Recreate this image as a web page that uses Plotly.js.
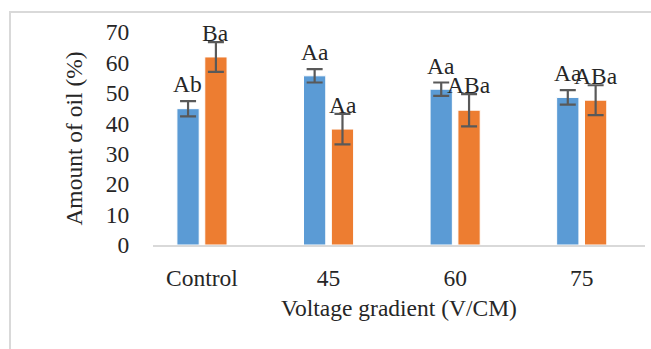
<!DOCTYPE html>
<html>
<head>
<meta charset="utf-8">
<script src="https://cdn.plot.ly/plotly-3.0.1.min.js"></script>
<style>
  html, body { margin: 0; padding: 0; background: #fff; overflow: hidden; }
  #frame { position: absolute; left: 9px; top: 11px; width: 700px; height: 400px; border: 2px solid #d9d9d9; box-sizing: border-box; }
  #chart { position: absolute; left: 0; top: 0; width: 651px; height: 349px; }
</style>
</head>
<body>
<div id="frame"></div>
<div id="chart"></div>
<script>
const categories = ["Control", "45", "60", "75"];
const series1Values = [44.8, 55.6, 51.2, 48.5];
const series1Errors = [2.5, 2.2, 2.2, 2.4];
const series1Labels = ["Ab", "Aa", "Aa", "Aa"];
const series2Values = [61.8, 38.1, 44.3, 47.6];
const series2Errors = [4.9, 5.0, 5.3, 4.9];
const series2Labels = ["Ba", "Aa", "ABa", "ABa"];
const yTicks = [0, 10, 20, 30, 40, 50, 60, 70];

const FONT = "Liberation Serif, Times New Roman, serif";
const TXT = "#262626";
const FS = 23.5;

const barStyle = (color) => ({
  type: "bar",
  x: categories,
  marker: { color: color, line: { color: "#ffffff", width: 1 } },
  hoverinfo: "skip"
});
const errStyle = (arr) => ({ type: "data", array: arr, visible: true, color: "#595959", thickness: 2.2, width: 8 });

const traces = [
  Object.assign(barStyle("#5b9bd5"), { y: series1Values, error_y: errStyle(series1Errors), name: "s1" }),
  Object.assign(barStyle("#ed7d31"), { y: series2Values, error_y: errStyle(series2Errors), name: "s2" })
];

const annotations = [];
categories.forEach((c, i) => {
  annotations.push({ x: i, y: series1Values[i] + series1Errors[i], xref: "x", yref: "y", text: series1Labels[i],
    showarrow: false, xanchor: "center", yanchor: "bottom", xshift: -14, yshift: 2, font: { family: FONT, size: FS, color: TXT } });
  annotations.push({ x: i, y: series2Values[i] + series2Errors[i], xref: "x", yref: "y", text: series2Labels[i],
    showarrow: false, xanchor: "center", yanchor: "bottom", xshift: 14, yshift: -6, font: { family: FONT, size: FS, color: TXT } });
});

const layout = {
  width: 651, height: 349,
  margin: { l: 153, r: 6, t: 32, b: 104 },
  paper_bgcolor: "rgba(0,0,0,0)", plot_bgcolor: "rgba(0,0,0,0)",
  showlegend: false,
  barmode: "group", bargap: 0.56, bargroupgap: 0.2,
  font: { family: FONT, size: FS, color: TXT },
  xaxis: {
    type: "category", range: [-0.387, 3.5], fixedrange: true,
    showline: true, linecolor: "#d9d9d9", linewidth: 1.5,
    ticks: "outside", ticklen: 11, tickcolor: "rgba(0,0,0,0)",
    tickfont: { family: FONT, size: FS, color: TXT },
    showgrid: false, zeroline: false, automargin: false,
    title: { text: "Voltage gradient (V/CM)", font: { family: FONT, size: FS, color: TXT }, standoff: 10 }
  },
  yaxis: {
    range: [0, 70], tickvals: yTicks, ticktext: yTicks.map(String), fixedrange: true,
    showline: false, showgrid: false, zeroline: false,
    ticks: "outside", ticklen: 18, tickcolor: "rgba(0,0,0,0)",
    tickfont: { family: FONT, size: FS, color: TXT }, automargin: false,
    title: { text: "Amount of oil (%)", font: { family: FONT, size: FS, color: TXT }, standoff: 16 }
  },
  annotations: annotations
};

Plotly.newPlot("chart", traces, layout, { staticPlot: true, displayModeBar: false });
</script>
</body>
</html>
